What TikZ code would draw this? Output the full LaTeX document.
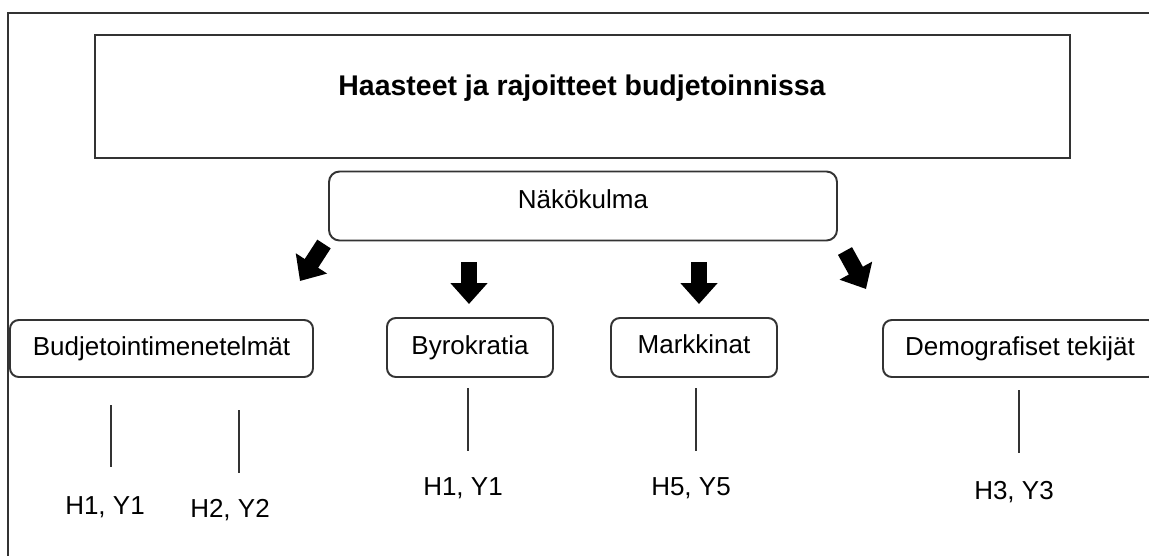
\documentclass[tikz,border=0pt]{standalone}
\usepackage{fontspec}
\setmainfont{Liberation Sans}
\usetikzlibrary{arrows.meta}
\definecolor{frameline}{RGB}{51, 51, 51}

\begin{document}
\begin{tikzpicture}[x=0.02cm, y=-0.02cm,
      framebox/.style={rectangle, draw=frameline, line width=1.1pt, inner sep=0pt},
      topicbox/.style={rectangle, draw=frameline, line width=1.1pt, rounded corners=5pt, inner sep=0pt, text height=0.75em+2.5pt, text depth=0.25em, font=\fontsize{14.8pt}{17pt}\selectfont},
      reflabel/.style={inner sep=0pt, font=\fontsize{14.8pt}{17pt}\selectfont},
      stem/.style={draw=frameline, line width=0.85pt},
      blockarr/.style={line width=0.32cm, -{Triangle[length=0.42cm, width=0.72cm]}}
    ]
      \clip (0,0) rectangle (1149,555);
      \fill[white] (0,0) rectangle (1149,555);
      % outer frame, cut by the page on the right and bottom
      \draw[frameline, line width=1.1pt] (1170,13) -- (8,13) -- (8,570);

      \node[framebox, minimum width=975*0.02cm, minimum height=123*0.02cm] (T) at (582.5, 96.5) {};
      \node[inner sep=0pt, font=\bfseries\fontsize{16.2pt}{19pt}\selectfont] (Tt) at (582, 88) {Haasteet ja rajoitteet budjetoinnissa};

      \node[topicbox, rounded corners=6pt, text depth=0.25em+5pt, minimum width=508*0.02cm, minimum height=69*0.02cm] (N) at (583, 206) {Näkökulma};

      \node[topicbox, minimum width=303*0.02cm, minimum height=57*0.02cm] (B) at (161.5, 348.5) {Budjetointimenetelmät};
      \node[topicbox, minimum width=166*0.02cm, minimum height=59*0.02cm] (Y) at (470, 347.5) {Byrokratia};
      \node[topicbox, text depth=0.25em+1pt, minimum width=166*0.02cm, minimum height=59*0.02cm] (M) at (694, 347.5) {Markkinat};
      \node[topicbox, minimum width=274*0.02cm, minimum height=57*0.02cm] (D) at (1020, 348.5) {Demografiset tekijät};

      \node[reflabel] (L1) at (105, 507) {H1, Y1};
      \node[reflabel] (L2) at (230, 510) {H2, Y2};
      \node[reflabel] (L3) at (463, 488) {H1, Y1};
      \node[reflabel] (L4) at (691, 488) {H5, Y5};
      \node[reflabel] (L5) at (1014, 492) {H3, Y3};

      % block arrows below the viewpoint box
      \coordinate (a1) at (324, 244);
      \coordinate (a1e) at (300, 281);
      \coordinate (a2) at (469, 262);
      \coordinate (a2e) at (469, 304);
      \coordinate (a3) at (699, 262);
      \coordinate (a3e) at (699, 304);
      \coordinate (a4) at (845, 251);
      \coordinate (a4e) at (866, 289);
      \draw[blockarr] (a1) -- (a1e);
      \draw[blockarr] (a2) -- (a2e);
      \draw[blockarr] (a3) -- (a3e);
      \draw[blockarr] (a4) -- (a4e);

      % short stems above the labels
      \coordinate (s1) at (111, 405);
      \coordinate (s1e) at (111, 467);
      \coordinate (s2) at (239, 410);
      \coordinate (s2e) at (239, 473);
      \coordinate (s3) at (468, 388);
      \coordinate (s3e) at (468, 451);
      \coordinate (s4) at (696, 388);
      \coordinate (s4e) at (696, 451);
      \coordinate (s5) at (1019, 390);
      \coordinate (s5e) at (1019, 453);
      \draw[stem] (s1) -- (s1e);
      \draw[stem] (s2) -- (s2e);
      \draw[stem] (s3) -- (s3e);
      \draw[stem] (s4) -- (s4e);
      \draw[stem] (s5) -- (s5e);
    \end{tikzpicture}
\end{document}
